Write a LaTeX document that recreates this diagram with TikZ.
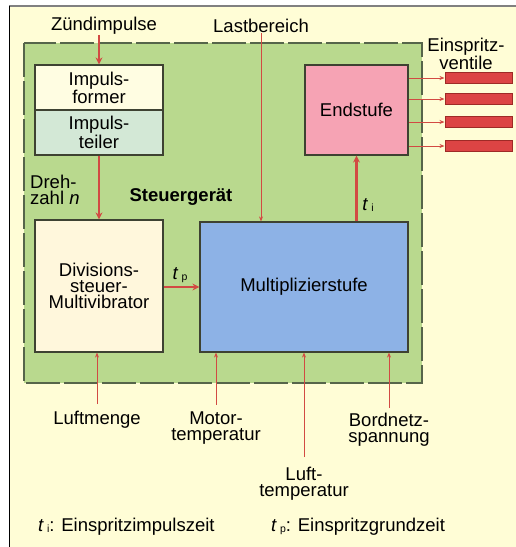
\documentclass[tikz,border=0pt]{standalone}
\usepackage{fontspec}
\setmainfont{Liberation Sans}
\usepackage{xcolor}
\usetikzlibrary{arrows.meta, positioning, calc}

\definecolor{bgyellow}{HTML}{FFFDD6}
\definecolor{ecugreen}{HTML}{B9D98E}
\definecolor{eculine}{HTML}{56654A}
\definecolor{boxline}{HTML}{3E4232}
\definecolor{formfill}{HTML}{FFFDE2}
\definecolor{teilfill}{HTML}{D3E8D6}
\definecolor{divfill}{HTML}{FFF7DC}
\definecolor{multfill}{HTML}{8DB2E6}
\definecolor{endfill}{HTML}{F6A3B4}
\definecolor{sigred}{HTML}{D24A43}
\definecolor{valvefill}{HTML}{DC4444}
\definecolor{valveline}{HTML}{9E2A26}

\newcommand{\tvar}[1]{\textit{t}\,\raisebox{-0.1ex}{\fontsize{10.5}{10.5}\selectfont #1}}

\begin{document}
\begin{tikzpicture}[x=1pt, y=-1pt, font=\fontsize{18.5}{16}\selectfont,
  block/.style={draw=boxline, line width=1.2pt, inner sep=0pt, align=center},
  sig/.style={draw=sigred, line width=2.6pt, -{Stealth[length=7pt,width=7pt]}},
  thinsig/.style={draw=sigred, line width=1pt, -{Stealth[length=5pt,width=4pt]}},
  lbl/.style={align=center, inner sep=0pt}]
  \useasboundingbox (0,0) rectangle (516,547);

  % frame and control unit
  \fill[bgyellow] (9,6) rectangle (516,547);
  \draw[gray, line width=1.5pt] (9,6) -- (516,6);
  \draw[black, line width=1pt] (9,6) -- (9,547);
  \draw[eculine, fill=ecugreen, line width=1.6pt, dash pattern=on 34pt off 4pt]
    (24,43) rectangle (422,383);

  % blocks
  \node[block, fill=formfill, minimum width=128pt, minimum height=45pt] (form) at (99,87.5) {Impuls-\\former};
  \node[block, fill=teilfill, minimum width=128pt, minimum height=45pt] (teil) at (99,132.5) {Impuls-\\teiler};
  \node[block, fill=divfill, minimum width=128pt, minimum height=132pt] (div) at (99,286) {Divisions-\\steuer-\\Multivibrator};
  \node[block, fill=multfill, minimum width=208pt, minimum height=130pt] (mult) at (304,287) {Multiplizierstufe};
  \node[block, fill=endfill, minimum width=103pt, minimum height=90pt] (end) at (356.5,110) {Endstufe};

  % injection valves
  \foreach \i/\y in {1/78, 2/99, 3/122, 4/146} {
    \node[draw=valveline, fill=valvefill, line width=1pt, minimum width=67pt,
      minimum height=11pt, inner sep=0pt] (v\i) at (478.5,\y) {};
    \draw[thinsig] (end.east |- v\i.west) -- (v\i.west);
  }

  % labels
  \node[lbl] (zuend) at (104,26) {Zündimpulse};
  \node[lbl] (last) at (261,26) {Lastbereich};
  \node[lbl] (vent) at (466,54) {Einspritz-\\ventile};
  \node[lbl, align=left, anchor=west] (dreh) at (30,190) {Dreh-\\zahl \textit{n}};
  \node[lbl] (sg) at (181,197) {\bfseries Steuergerät};
  \node[lbl] (tp) at (180,275) {\tvar{p}};
  \node[lbl] (ti) at (368,205) {\tvar{i}};
  \node[lbl] (lmenge) at (97,420) {Luftmenge};
  \node[lbl] (mtemp) at (216,428) {Motor-\\temperatur};
  \node[lbl] (ltemp) at (304,484) {Luft-\\temperatur};
  \node[lbl] (bord) at (389,430) {Bordnetz-\\spannung};
  \node[lbl, anchor=west] (legti) at (38,527) {\tvar{i}: Einspritzimpulszeit};
  \node[lbl, anchor=west] (legtp) at (271,527) {\tvar{p}: Einspritzgrundzeit};

  % signal paths
  \draw[sig] (form.north |- zuend.south) -- (form.north);
  \draw[sig] (teil.south) -- (div.north);
  \draw[sig] (div.east |- 0,287) -- (mult.west |- 0,287);
  \draw[sig] (end.south |- mult.north) -- (end.south);
  \draw[thinsig] (last.south) -- (last.south |- mult.north);
  \draw[thinsig, shorten <=7pt] (lmenge.north) -- (lmenge.north |- div.south);
  \draw[thinsig, shorten <=7pt] (mtemp.north) -- (mtemp.north |- mult.south);
  \draw[thinsig, shorten <=10pt] (ltemp.north) -- (ltemp.north |- mult.south);
  \draw[thinsig, shorten <=5pt] (bord.north) -- (bord.north |- mult.south);
\end{tikzpicture}
\end{document}
